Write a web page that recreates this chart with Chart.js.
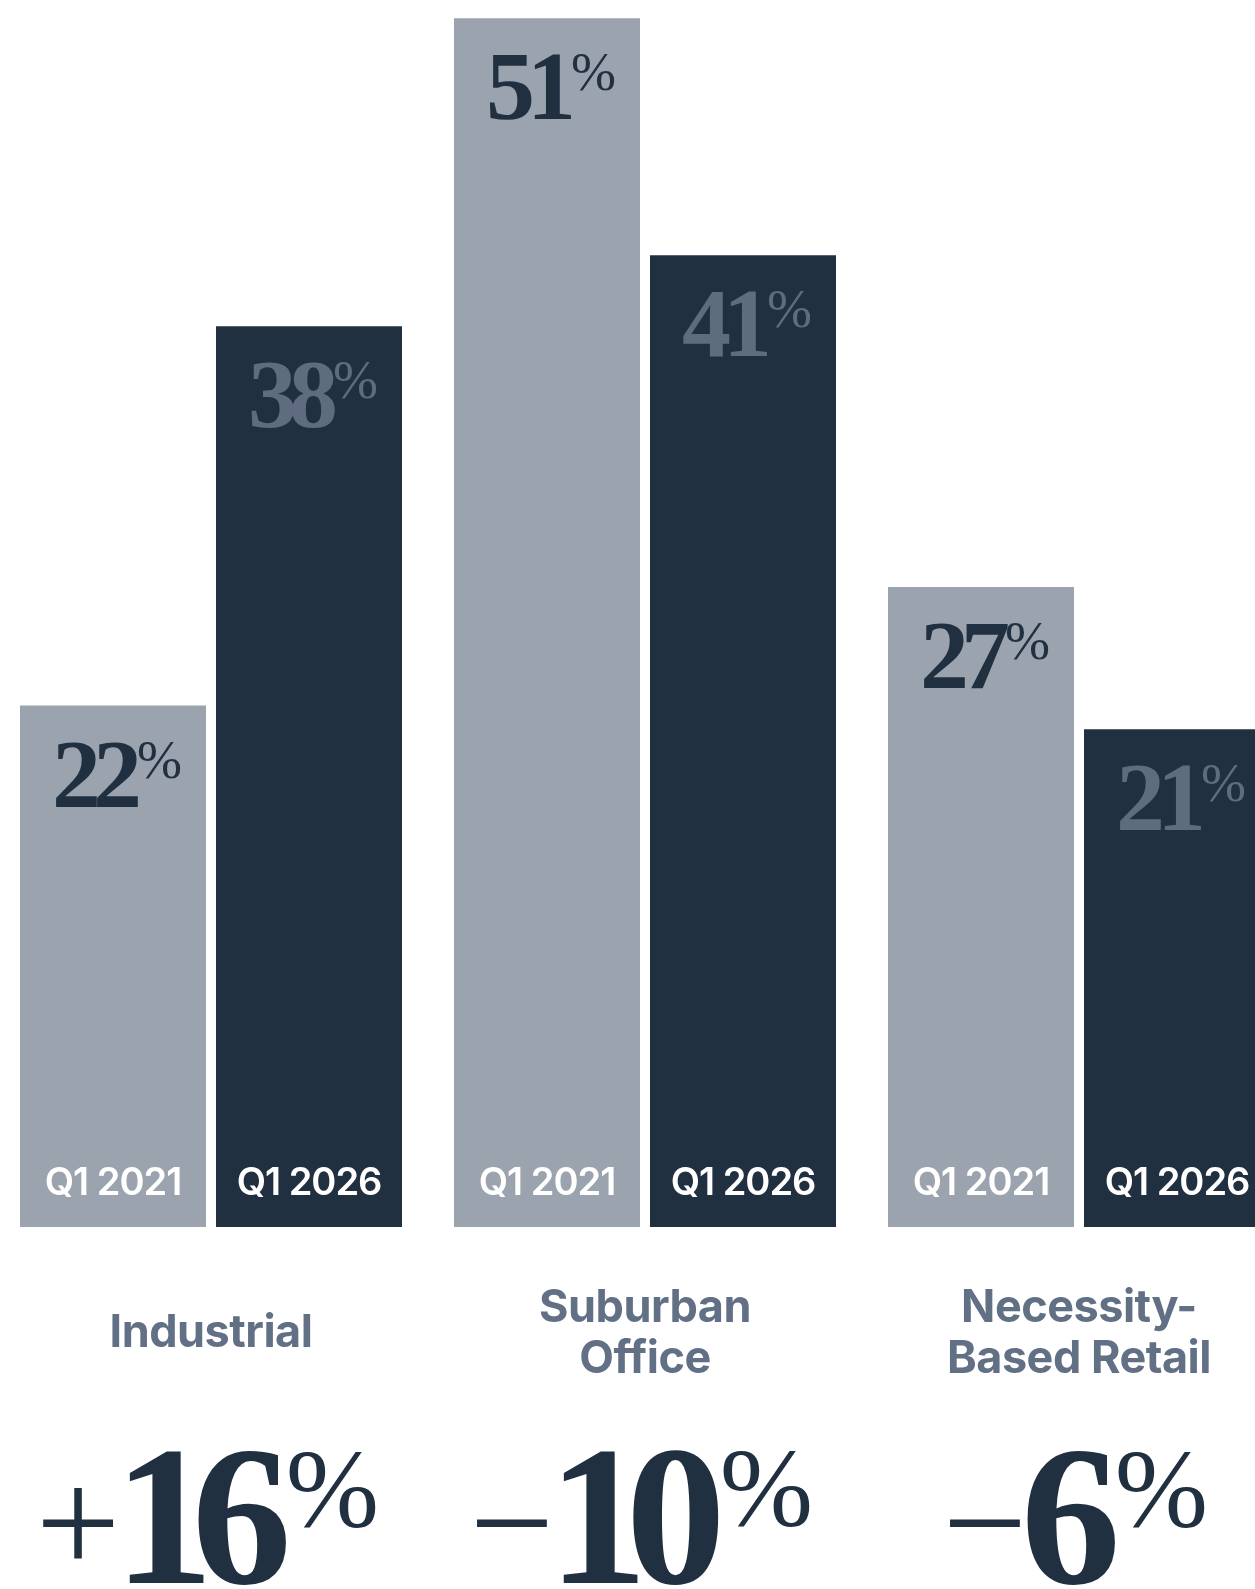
<!DOCTYPE html>
<html>
<head>
<meta charset="utf-8">
<script src="https://cdn.jsdelivr.net/npm/chart.js@4/dist/chart.umd.min.js"></script>
<style>
	html, body { margin: 0; padding: 0; background: #fff; overflow: hidden; }
	body { width: 1255px; height: 1589px; position: relative; }
	#chart { position: absolute; left: -6px; top: 0; }
</style>
</head>
<body>
<canvas id="chart" width="1302" height="1589"></canvas>
<script>
( function () {
	'use strict';

	// data
	var categories = [ [ 'Industrial' ], [ 'Suburban', 'Office' ], [ 'Necessity-', 'Based Retail' ] ];
	var periods = [ 'Q1 2021', 'Q1 2026' ];
	var share2021 = [ 22, 51, 27 ];
	var share2026 = [ 38, 41, 21 ];
	var changes = [ 16, -10, -6 ];

	var LIGHT = '#9ba3ae';
	var NAVY = '#213041';
	var SLATE = '#627086';
	var SERIF = '"Liberation Serif", "DejaVu Serif", serif';
	var SANS = 'Inter, "Noto Sans", sans-serif';

	function spacedWidth( ctx, text, spacing ) {
		var w = 0;
		for ( var i = 0; i < text.length; i++ ) {
			w += ctx.measureText( text[ i ] ).width + ( i < text.length - 1 ? spacing : 0 );
		}
		return w;
	}

	function fillSpaced( ctx, text, x, y, spacing ) {
		for ( var i = 0; i < text.length; i++ ) {
			ctx.fillText( text[ i ], x, y );
			x += ctx.measureText( text[ i ] ).width + spacing;
		}
	}

	// number with a raised percent sign, optionally preceded by a sign
	function drawFigure( ctx, o ) {
		ctx.save();
		ctx.textAlign = 'left';
		ctx.textBaseline = 'alphabetic';
		ctx.fillStyle = o.color;

		var signW = 0, signM = null;
		if ( o.sign ) {
			ctx.font = o.signWeight + ' ' + o.signSize + 'px ' + SERIF;
			signM = ctx.measureText( o.sign );
			signW = signM.actualBoundingBoxLeft + signM.actualBoundingBoxRight + o.signGap;
		}
		ctx.font = o.weight + ' ' + o.size + 'px ' + SERIF;
		var numW = spacedWidth( ctx, o.num, o.spacing );
		var digitTop = ctx.measureText( o.num ).actualBoundingBoxAscent;
		ctx.font = 'normal ' + o.pctSize + 'px ' + SERIF;
		var pm = ctx.measureText( '%' );
		var pctW = pm.width;

		var total = signW + numW + o.pctGap + pctW;
		var x = o.x - total / 2 + ( o.shift || 0 );

		if ( o.sign ) {
			ctx.font = o.signWeight + ' ' + o.signSize + 'px ' + SERIF;
			var sh = signM.actualBoundingBoxAscent - signM.actualBoundingBoxDescent;
			ctx.fillText( o.sign, x + signM.actualBoundingBoxLeft, o.signY + sh / 2 );
			x += signW;
		}
		ctx.font = o.weight + ' ' + o.size + 'px ' + SERIF;
		fillSpaced( ctx, o.num, x, o.y, o.spacing );
		x += numW + o.pctGap;
		ctx.font = 'normal ' + o.pctSize + 'px ' + SERIF;
		ctx.fillText( '%', x, o.y - digitTop + pm.actualBoundingBoxAscent );
		ctx.restore();
	}

	var labelsPlugin = {
		id: 'barText',
		afterDatasetsDraw: function ( chart ) {
			var ctx = chart.ctx;
			var xScale = chart.scales.x;

			chart.data.datasets.forEach( function ( ds, di ) {
				chart.getDatasetMeta( di ).data.forEach( function ( bar, i ) {
					drawFigure( ctx, {
						num: String( ds.data[ i ] ),
						x: bar.x,
						y: bar.y + 101,
						size: 98,
						pctSize: 54,
						spacing: -8,
						pctGap: -5,
						shift: 4,
						weight: 'bold',
						color: di === 0 ? NAVY : '#5f6b7e'
					} );

					ctx.save();
					ctx.font = '600 38px ' + SANS;
					ctx.letterSpacing = '-1px';
					ctx.fillStyle = '#ffffff';
					ctx.textAlign = 'center';
					ctx.fillText( periods[ di ], bar.x, bar.base - 32 );
					ctx.restore();
				} );
			} );

			var bottom = chart.chartArea.bottom;
			categories.forEach( function ( lines, i ) {
				var cx = xScale.getPixelForValue( i );
				ctx.save();
				ctx.font = '700 45px ' + SANS;
				ctx.letterSpacing = '-0.5px';
				ctx.fillStyle = SLATE;
				ctx.textAlign = 'center';
				var first = bottom + 120 - ( lines.length - 1 ) * 25.5;
				lines.forEach( function ( line, li ) {
					ctx.fillText( line, cx, first + li * 51 );
				} );
				ctx.restore();

				var v = changes[ i ];
				drawFigure( ctx, {
					sign: v >= 0 ? '+' : '\u2212',
					num: String( Math.abs( v ) ),
					x: cx,
					y: bottom + 356,
					signY: bottom + 296,
					signSize: 150,
					signWeight: 'normal',
					signGap: 0,
					size: 200,
					pctSize: 112,
					spacing: -22,
					pctGap: -6,
					weight: 'bold',
					color: NAVY
				} );
			} );
		}
	};

	new Chart( document.getElementById( 'chart' ), {
		type: 'bar',
		data: {
			labels: categories,
			datasets: [
				{
					label: periods[ 0 ],
					data: share2021,
					backgroundColor: LIGHT,
					categoryPercentage: 0.9032,
					barPercentage: 0.949
				},
				{
					label: periods[ 1 ],
					data: share2026,
					backgroundColor: NAVY,
					categoryPercentage: 0.9032,
					barPercentage: 0.949
				}
			]
		},
		options: {
			responsive: false,
			animation: false,
			layout: {
				padding: { top: 0, bottom: 362, left: 0, right: 0 }
			},
			plugins: {
				legend: { display: false },
				tooltip: { enabled: false }
			},
			scales: {
				x: { display: false },
				y: { display: false, min: 0, max: 51.77 }
			}
		},
		plugins: [ labelsPlugin ]
	} );
} )();
</script>
</body>
</html>
